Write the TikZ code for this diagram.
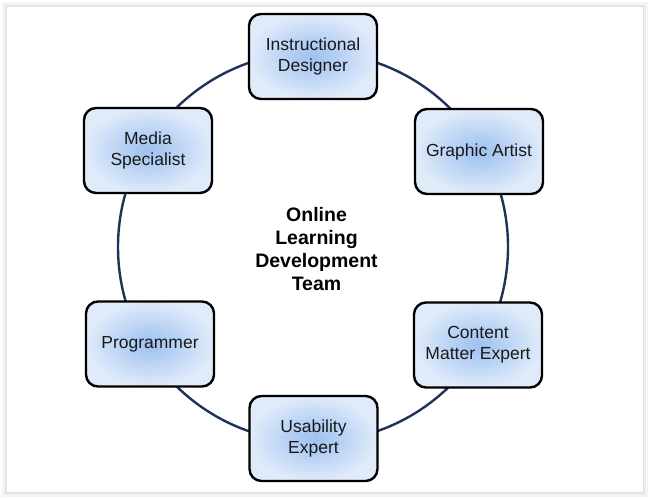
\documentclass[tikz,border=0pt]{standalone}
\usepackage{fontspec}
\setmainfont{Liberation Sans}
\definecolor{boxin}{HTML}{9FC1F0}
\definecolor{boxmid}{HTML}{B4CFF3}
\definecolor{boxout}{HTML}{E0EBFA}
\definecolor{ringcol}{HTML}{1F3358}
\pgfdeclareradialshading{boxshade}{\pgfpoint{0bp}{0bp}}{color(0bp)=(boxin); color(9bp)=(boxmid); color(25bp)=(boxout); color(50bp)=(boxout)}
\begin{document}
\begin{tikzpicture}[x=1pt,y=-1pt,
  rolebox/.style={draw=black, line width=2.4pt, rounded corners=12pt,
    minimum width=128pt, minimum height=85pt, inner sep=0pt,
    shading=boxshade,
    align=center, font=\fontsize{17.5}{21}\selectfont, text=black!90},
  ring/.style={draw=ringcol, line width=2.4pt},
  title/.style={align=center, font=\bfseries\fontsize{19.5}{23}\selectfont}
]
\useasboundingbox (0,0) rectangle (650,499);
% frame with soft shadow
\draw[gray!8, line width=10pt] (7,7) rectangle (643,492);
\draw[gray!15, line width=6pt] (7,7) rectangle (643,492);
\draw[gray!25, line width=2.5pt] (7,7) rectangle (643,492);
\fill[white] (7,7) rectangle (643,492);
% ring
\coordinate (c) at (313,247);
\draw[ring] (c) circle [radius=195];
% boxes
\node[rolebox] (id) at (313,56.5) {Instructional\\Designer};
\node[rolebox] (ms) at (148,150.5) {Media\\Specialist};
\node[rolebox] (ga) at (479,151.5) {Graphic Artist};
\node[rolebox] (pr) at (150,344) {Programmer};
\node[rolebox] (cm) at (478,345) {Content\\Matter Expert};
\node[rolebox] (ue) at (313.5,438.5) {Usability\\Expert};
% title
\node[title] (t) at (316.5,249) {Online\\Learning\\Development\\Team};
\end{tikzpicture}
\end{document}
